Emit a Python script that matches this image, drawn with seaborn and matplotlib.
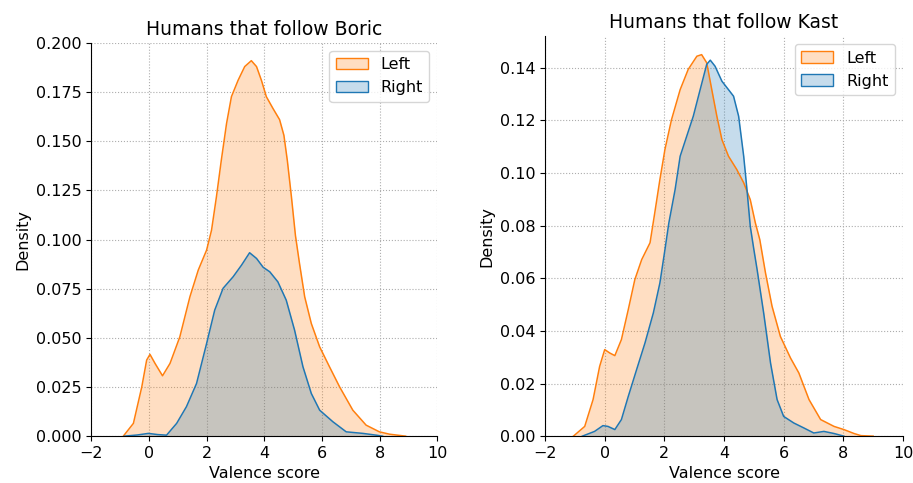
import numpy as np
import seaborn as sns
import matplotlib.pyplot as plt
from matplotlib.patches import Patch

# density values (x = valence score)
boric_left_x = [-0.89, -0.54, -0.25, -0.08, 0.035, 0.21, 0.47, 0.73, 1.07, 1.42, 1.71, 2.0, 2.17,
                2.34, 2.51, 2.69, 2.86, 3.09, 3.32, 3.55, 3.73, 3.9, 4.07, 4.3, 4.53, 4.68, 4.8,
                4.94, 5.08, 5.22, 5.4, 5.63, 5.92, 6.26, 6.61, 7.07, 7.53, 7.99, 8.34, 8.9]
boric_left_y = [0.0, 0.0065, 0.025, 0.0387, 0.0416, 0.037, 0.0307, 0.037, 0.0505, 0.0709, 0.0845,
                0.0947, 0.1048, 0.1218, 0.1405, 0.159, 0.1727, 0.181, 0.188, 0.191, 0.188, 0.181,
                0.1727, 0.1667, 0.161, 0.153, 0.14, 0.1218, 0.102, 0.0879, 0.0709, 0.0573,
                0.0454, 0.0353, 0.0251, 0.0132, 0.0056, 0.0022, 0.001, 0.0]
boric_right_x = [-0.85, -0.4, -0.02, 0.3, 0.61, 0.96, 1.3, 1.65, 2.0, 2.28, 2.57, 2.92, 3.21,
                 3.49, 3.73, 3.96, 4.19, 4.47, 4.76, 5.05, 5.34, 5.63, 5.92, 6.38, 6.84, 7.42,
                 7.88, 8.1]
boric_right_y = [0.0, 0.0006, 0.0014, 0.0008, 0.0005, 0.0065, 0.015, 0.0268, 0.0472, 0.0641,
                 0.0752, 0.0811, 0.087, 0.0933, 0.0904, 0.0859, 0.0836, 0.0785, 0.0692, 0.0539,
                 0.0353, 0.0217, 0.0132, 0.0073, 0.0022, 0.0014, 0.0005, 0.0]

kast_left_x = [-1.05, -0.67, -0.39, -0.17, 0.0, 0.17, 0.34, 0.56, 0.79, 1.01, 1.24, 1.52, 1.68,
               1.85, 2.02, 2.24, 2.53, 2.8, 3.09, 3.25, 3.42, 3.59, 3.76, 3.93, 4.15, 4.43, 4.66,
               4.88, 5.05, 5.2, 5.39, 5.61, 5.89, 6.23, 6.51, 6.85, 7.24, 7.69, 8.02, 8.36, 8.59,
               9.0]
kast_left_y = [0.0, 0.0037, 0.0139, 0.0265, 0.0329, 0.0316, 0.0306, 0.0367, 0.0481, 0.0595,
               0.0671, 0.0735, 0.085, 0.0975, 0.109, 0.1203, 0.1317, 0.1394, 0.1444, 0.145,
               0.1419, 0.1317, 0.1216, 0.1127, 0.1064, 0.1013, 0.0963, 0.0899, 0.0811, 0.0747,
               0.0621, 0.0494, 0.0379, 0.0297, 0.024, 0.0139, 0.0063, 0.0037, 0.0025, 0.001,
               0.0002, 0.0]
kast_right_x = [-0.75, -0.34, -0.06, 0.11, 0.34, 0.56, 0.79, 1.07, 1.35, 1.63, 1.85, 2.02, 2.15,
                2.36, 2.53, 2.75, 2.97, 3.2, 3.42, 3.54, 3.7, 3.93, 4.15, 4.32, 4.49, 4.66, 4.77,
                4.88, 5.0, 5.11, 5.33, 5.56, 5.78, 6.0, 6.34, 6.68, 7.01, 7.35, 7.69, 8.02]
kast_right_y = [0.0, 0.0018, 0.004, 0.0037, 0.0025, 0.0063, 0.0151, 0.0253, 0.0354, 0.0468,
                0.0582, 0.0709, 0.081, 0.0937, 0.1064, 0.114, 0.1216, 0.1317, 0.1413, 0.1429,
                0.1406, 0.1349, 0.1317, 0.1292, 0.1216, 0.1064, 0.0937, 0.0798, 0.071, 0.0633,
                0.0468, 0.0278, 0.0139, 0.0075, 0.005, 0.0031, 0.0012, 0.0018, 0.001, 0.0]

groups = ["Left", "Right"]
titles = ["Humans that follow Boric", "Humans that follow Kast"]
panels = [
    [(boric_left_x, boric_left_y), (boric_right_x, boric_right_y)],
    [(kast_left_x, kast_left_y), (kast_right_x, kast_right_y)],
]
colors = {"Left": sns.color_palette()[1], "Right": sns.color_palette()[0]}

fig = plt.figure(figsize=(9.13, 4.83), dpi=100)
ax1 = fig.add_axes([0.1, 0.097, 0.379, 0.814])
ax2 = fig.add_axes([0.597, 0.097, 0.392, 0.828])
ylims = [0.2, 0.152]

for ax, title, curves, ytop in zip([ax1, ax2], titles, panels, ylims):
    ax.grid(True, linestyle=":", color="0.68", linewidth=0.8)
    ax.set_axisbelow(True)
    for name, (xs, ys) in zip(groups, curves):
        c = colors[name]
        ax.fill_between(xs, ys, 0, color=c, alpha=0.25, linewidth=0)
        sns.lineplot(x=xs, y=ys, ax=ax, color=c, linewidth=1.1, sort=False)
    ax.set_xlim(-2, 10)
    ax.set_ylim(0, ytop)
    ax.set_xticks([-2, 0, 2, 4, 6, 8, 10])
    ax.set_title(title, fontsize=13.5)
    ax.set_xlabel("Valence score", fontsize=11.5)
    ax.set_ylabel("Density", fontsize=11.5)
    ax.tick_params(labelsize=11.5)
    handles = [Patch(facecolor=(*colors[g], 0.25), edgecolor=colors[g]) for g in groups]
    ax.legend(handles, groups, loc="upper right", fontsize=11.5)
    sns.despine(ax=ax)

ax1.set_yticks([0, 0.025, 0.05, 0.075, 0.1, 0.125, 0.15, 0.175, 0.2])
ax1.yaxis.set_major_formatter(plt.FormatStrFormatter("%.3f"))
ax2.set_yticks([0, 0.02, 0.04, 0.06, 0.08, 0.1, 0.12, 0.14])
ax2.yaxis.set_major_formatter(plt.FormatStrFormatter("%.2f"))

fig.savefig("out.png", dpi=100)
